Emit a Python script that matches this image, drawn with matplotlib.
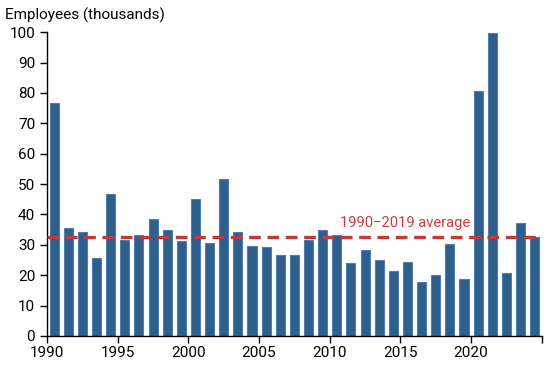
import matplotlib
matplotlib.use("Agg")
import matplotlib.pyplot as plt
import numpy as np

plt.rcParams['font.family'] = ['Roboto', 'DejaVu Sans']

years = list(range(1990, 2025))
employees = [76.6, 35.7, 34.1, 25.6, 46.6, 31.6, 33.1, 38.4, 34.8, 31.1,
             45.0, 30.5, 51.5, 34.3, 29.5, 29.2, 26.5, 26.5, 31.6, 34.8,
             33.1, 23.9, 28.2, 24.9, 21.4, 24.2, 17.7, 20.0, 30.2, 18.7,
             80.5, 99.6, 20.6, 37.1, 32.5]
average_value = 32.5
average_label = "1990\u22122019 average"
y_label = "Employees (thousands)"
x_ticks = [1990, 1995, 2000, 2005, 2010, 2015, 2020, 2025]
x_tick_labels = ["1990", "1995", "2000", "2005", "2010", "2015", "2020", ""]

fig = plt.figure(figsize=(5.5, 3.65), dpi=100)
ax = fig.add_axes([0.0855, 0.0795, 0.8995, 0.8325])

x = np.array(years) + 0.5
ax.bar(x, employees, width=0.64, color="#2f5f8d", edgecolor="#4f7eab", linewidth=0.8, zorder=2)
ax.axhline(average_value, color="#c0393b", linestyle=(0, (3.5, 2)), linewidth=2.4, zorder=3)
ax.text(2015.3, average_value + 2.4, average_label, color="#c8403f", fontsize=10.6,
        ha="center", va="bottom")

ax.set_xlim(1990, 2025)
ax.set_ylim(0, 100)
ax.set_yticks(range(0, 101, 10))
ax.set_xticks(x_ticks)
ax.set_xticklabels(x_tick_labels)
ax.tick_params(axis="both", labelsize=11, color="black", length=5, width=1)
ax.tick_params(axis="x", pad=2)
for s in ["top", "right"]:
    ax.spines[s].set_visible(False)
for s in ["left", "bottom"]:
    ax.spines[s].set_color("black")
    ax.spines[s].set_linewidth(1)

fig.text(5 / 550, 1 - 15 / 365, y_label, fontsize=11, ha="left", va="center")

fig.savefig("out.png", dpi=100)
